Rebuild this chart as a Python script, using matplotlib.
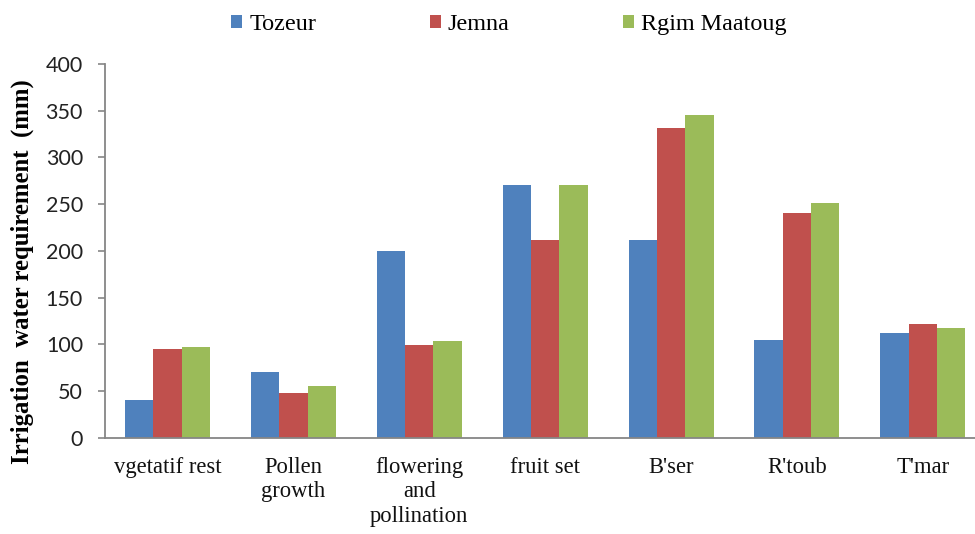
import matplotlib
matplotlib.use("Agg")
import matplotlib.pyplot as plt
import numpy as np

stages = ["vgetatif rest", "Pollen\ngrowth", "flowering\nand\npollination",
          "fruit set", "B'ser", "R'toub", "T'mar"]
tozeur = [40, 70, 200, 270, 212, 105, 112]
jemna = [95, 48, 99, 212, 331, 241, 122]
rgim_maatoug = [97, 55, 104, 270, 345, 251, 117]

series = [("Tozeur", tozeur, "#4F81BD"),
          ("Jemna", jemna, "#C0504D"),
          ("Rgim Maatoug", rgim_maatoug, "#9BBB59")]

W, H = 975, 534
fig = plt.figure(figsize=(W / 100, H / 100), dpi=100)
ax_left, ax_bottom, ax_w, ax_h = 104.5, 437.7, 881.3, 373.7
ax = fig.add_axes([ax_left / W, (H - ax_bottom) / H, ax_w / W, ax_h / H])

x = np.arange(len(stages))
w = 0.225
for i, (name, vals, col) in enumerate(series):
    ax.bar(x + (i - 1) * w, vals, width=w, color=col, label=name, zorder=2)

ax.set_xlim(-0.5, len(stages) - 0.5)
ax.set_ylim(0, 400)
ax.set_yticks(range(0, 401, 50))

axis_col = "#868686"
for s in ["top", "right"]:
    ax.spines[s].set_visible(False)
for s in ["left", "bottom"]:
    ax.spines[s].set_color(axis_col)
    ax.spines[s].set_linewidth(1.3)

ax.tick_params(axis="y", direction="out", length=5, color=axis_col, width=1.2,
               labelsize=15.5, pad=10.5)
for lab in ax.get_yticklabels():
    lab.set_family("Lato")
    lab.set_color("#222222")

ax.set_xticks(x)
ax.set_xticklabels(stages, family="Liberation Serif", fontsize=16.3,
                   color="#111111", linespacing=1.2)
ax.tick_params(axis="x", length=0, pad=14)

ax.set_ylabel("Irrigation  water requirement  (mm)", family="Liberation Serif",
              fontweight="bold", fontsize=17.8)
ax.yaxis.set_label_coords((34 - ax_left) / ax_w, (ax_bottom - 272) / ax_h)

fig.legend(loc="center", ncol=3, frameon=False,
           prop={"family": "Liberation Serif", "size": 17.4},
           handlelength=0.45, handleheight=0.45, handletextpad=0.3,
           columnspacing=4.7,
           bbox_to_anchor=(509 / W, 1 - 25 / H))

fig.savefig("out.png", dpi=100)
